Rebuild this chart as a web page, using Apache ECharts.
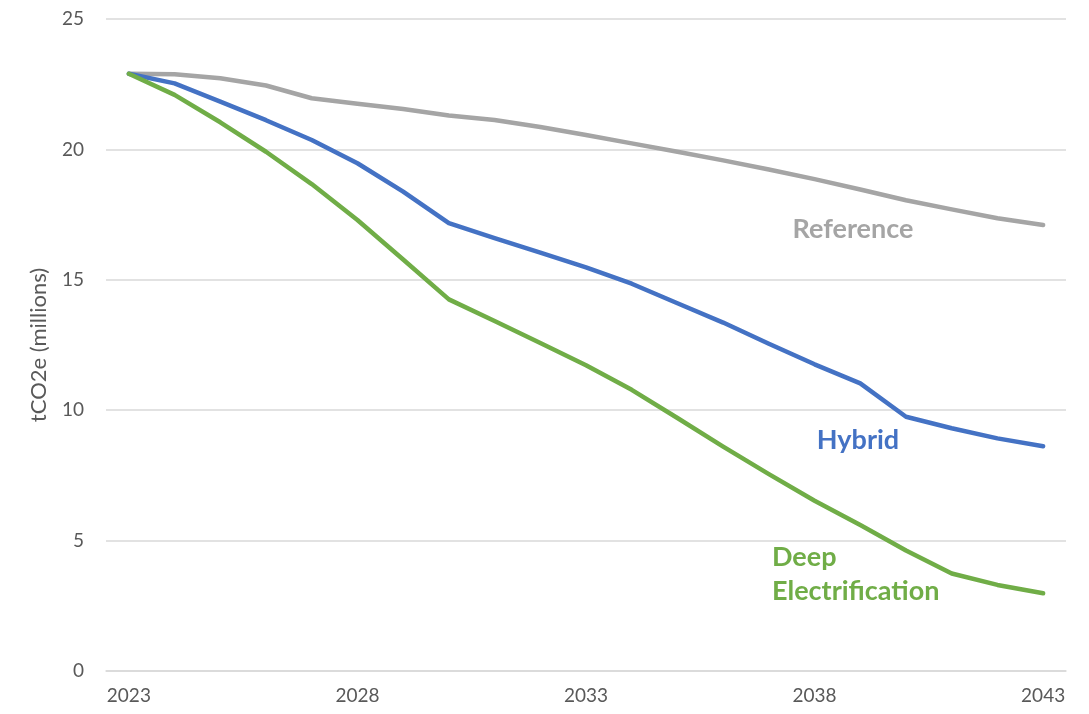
<!DOCTYPE html>
<html>
<head>
<meta charset="utf-8">
<script src="https://cdn.jsdelivr.net/npm/echarts@6/dist/echarts.min.js"></script>
<style>html,body{margin:0;padding:0;background:#fff}#c{width:1089px;height:714px}</style>
</head>
<body>
<div id="c"></div>
<script>
const years = ['2023','2024','2025','2026','2027','2028','2029','2030','2031','2032','2033','2034','2035','2036','2037','2038','2039','2040','2041','2042','2043'];
const referenceVals = [22.9,22.88,22.73,22.45,21.96,21.75,21.55,21.3,21.13,20.86,20.55,20.23,19.91,19.58,19.23,18.86,18.46,18.05,17.7,17.36,17.1];
const hybridVals = [22.9,22.53,21.83,21.12,20.36,19.47,18.38,17.17,16.6,16.04,15.48,14.85,14.1,13.36,12.55,11.76,11.03,9.75,9.31,8.92,8.62];
const deepVals = [22.9,22.09,21.04,19.91,18.67,17.29,15.78,14.25,13.42,12.58,11.72,10.78,9.7,8.6,7.55,6.53,5.6,4.62,3.74,3.3,2.98];
const yTicks = {min:0, max:25, interval:5};

const chart = echarts.init(document.getElementById('c'), null, {renderer:'canvas'});
const font = 'Lato, "Open Sans", sans-serif';
function line(name, data, color){
  return {name, type:'line', data, symbol:'none', smooth:false,
    lineStyle:{color, width:4.5, cap:'round', join:'round'}, itemStyle:{color}};
}
chart.setOption({
  animation:false,
  grid:{left:106, right:23, top:19, bottom:43},
  xAxis:{type:'category', data:years, boundaryGap:true,
    axisLine:{show:true, lineStyle:{color:'#D9D9D9', width:1.5}},
    axisTick:{show:false},
    axisLabel:{interval:4, color:'#595959', fontSize:19, fontFamily:font, margin:15}},
  yAxis:{type:'value', min:yTicks.min, max:yTicks.max, interval:yTicks.interval,
    name:'tCO2e (millions)', nameLocation:'middle', nameGap:56, nameRotate:90,
    nameTextStyle:{color:'#595959', fontSize:22, fontFamily:font},
    axisLine:{show:false}, axisTick:{show:false},
    axisLabel:{color:'#595959', fontSize:19, fontFamily:font, margin:22}},
  series:[
    line('Reference', referenceVals, '#A5A5A5'),
    line('Hybrid', hybridVals, '#4472C4'),
    line('Deep Electrification', deepVals, '#70AD47')
  ],
  graphic:[
    {type:'text', x:853, y:229, style:{text:'Reference', fill:'#A5A5A5', font:'bold 27px '+font, textAlign:'center', textVerticalAlign:'middle'}},
    {type:'text', x:858, y:440, style:{text:'Hybrid', fill:'#4472C4', font:'bold 27px '+font, textAlign:'center', textVerticalAlign:'middle'}},
    {type:'text', x:772, y:557, style:{text:'Deep', fill:'#70AD47', font:'bold 27px '+font, textAlign:'left', textVerticalAlign:'middle'}},
    {type:'text', x:772, y:591, style:{text:'Electrification', fill:'#70AD47', font:'bold 27px '+font, textAlign:'left', textVerticalAlign:'middle'}}
  ]
});
chart.setOption({yAxis:{splitLine:{lineStyle:{color:'#D9D9D9', width:1.5}}}});
</script>
</body>
</html>
